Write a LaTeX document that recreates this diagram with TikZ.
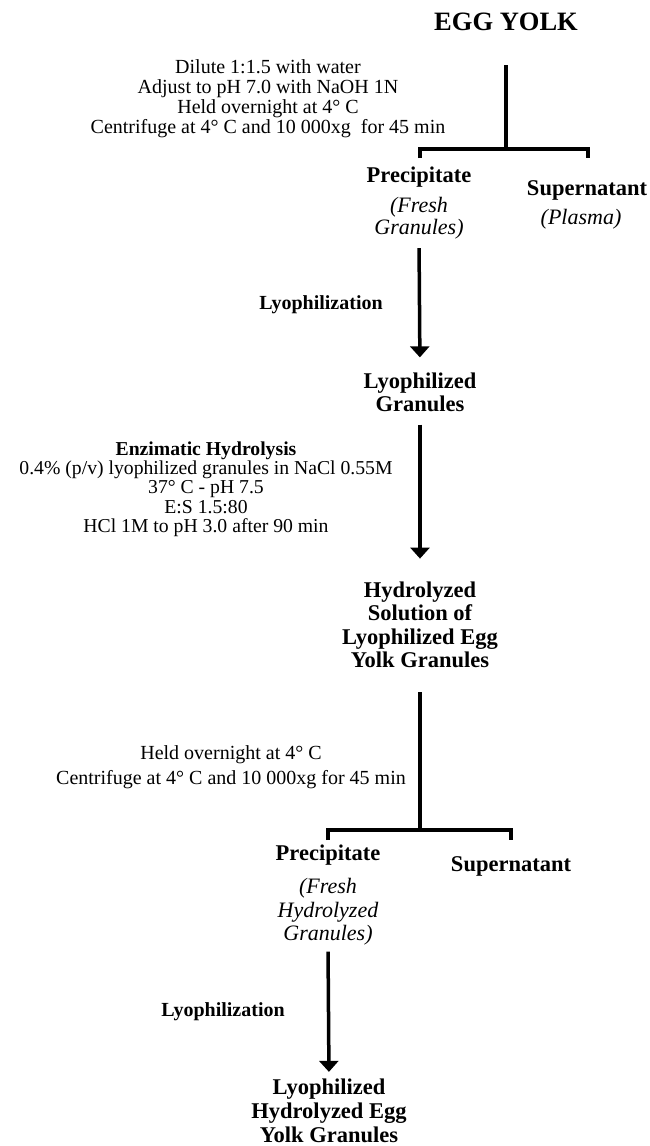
\documentclass[tikz,border=0pt]{standalone}
\usepackage{fontspec}
\setmainfont{Liberation Serif}
\usetikzlibrary{arrows.meta}
\begin{document}
\begin{tikzpicture}[x=1pt,y=-1pt,
  every node/.style={inner sep=0pt,align=center},
  cond/.style={font=\fontsize{20}{20}\selectfont},
  lbl/.style={font=\bfseries\fontsize{22.5}{23.5}\selectfont},
  ital/.style={font=\itshape\fontsize{22}{22}\selectfont},
  small/.style={font=\bfseries\fontsize{20}{20}\selectfont},
  ln/.style={line width=3.5pt},
  arr/.style={line width=3.5pt,-{Triangle[width=19pt,length=11pt]}}]
\useasboundingbox (0,0) rectangle (650,1146);
% top separation
\node[font=\bfseries\fontsize{26.5}{30}\selectfont] (egg) at (506,22) {EGG YOLK};
\node[cond] (cond1) at (268,99) {Dilute 1:1.5 with water\\Adjust to pH 7.0 with NaOH 1N\\Held overnight at 4\textdegree{} C\\Centrifuge at 4\textdegree{} C and 10 000xg\ \ for 45 min};
\coordinate (b1) at (506,149);
\coordinate (bl1) at (420,158);
\coordinate (br1) at (588,158);
\draw[ln,shorten <=34pt] (egg.south) -- (b1);
\draw[ln] (bl1) -- (bl1 |- b1) -- (br1 |- b1) -- (br1);
\node[lbl] (prec1) at (419,177) {Precipitate};
\node[ital] (fresh1) at (419,218) {(\textit{Fresh}\\\textit{Granules})};
\node[lbl] (sup1) at (587,190) {Supernatant};
\node[ital] (plasma) at (581,219) {(\textit{Plasma})};
% lyophilization
\node[small] (lyo1) at (321,305) {Lyophilization};
\node[lbl,font=\bfseries\fontsize{22.5}{23}\selectfont] (lyog) at (420,392) {Lyophilized\\Granules};
\draw[arr,shorten <=9pt,shorten >=15pt] (fresh1.south) -- (lyog.north);
% hydrolysis
\node[font=\fontsize{19.7}{19.3}\selectfont] (enz) at (206,489) {\textbf{Enzimatic Hydrolysis}\\0.4\% (p/v) lyophilized granules in NaCl 0.55M\\37\textdegree{} C - pH 7.5\\E:S 1.5:80\\HCl 1M to pH 3.0 after 90 min};
\node[lbl] (hyd) at (420,625) {Hydrolyzed\\Solution of\\Lyophilized Egg\\Yolk Granules};
\draw[arr,shorten <=13pt,shorten >=23pt] (lyog.south) -- (hyd.north);
% second separation
\node[font=\fontsize{20}{25}\selectfont] (cond2) at (231,767) {Held overnight at 4\textdegree{} C\\Centrifuge at 4\textdegree{} C and 10 000xg for 45 min};
\coordinate (b2) at (420,830);
\coordinate (bl2) at (328,840);
\coordinate (br2) at (511,840);
\draw[ln,shorten <=24pt] (hyd.south) -- (b2);
\draw[ln] (bl2) -- (bl2 |- b2) -- (br2 |- b2) -- (br2);
\node[lbl] (prec2) at (328,855) {Precipitate};
\node[lbl] (sup2) at (511,866) {Supernatant};
\node[ital,font=\itshape\fontsize{22}{23.5}\selectfont] (fresh2) at (328,912) {(Fresh\\Hydrolyzed\\Granules)};
\node[small] (lyo2) at (223,1012) {Lyophilization};
\node[lbl,font=\bfseries\fontsize{22.5}{24}\selectfont] (final) at (329,1111) {Lyophilized\\Hydrolyzed Egg\\Yolk Granules};
\draw[arr,shorten <=6pt,shorten >=7pt] (fresh2.south) -- (final.north);
\end{tikzpicture}
\end{document}
